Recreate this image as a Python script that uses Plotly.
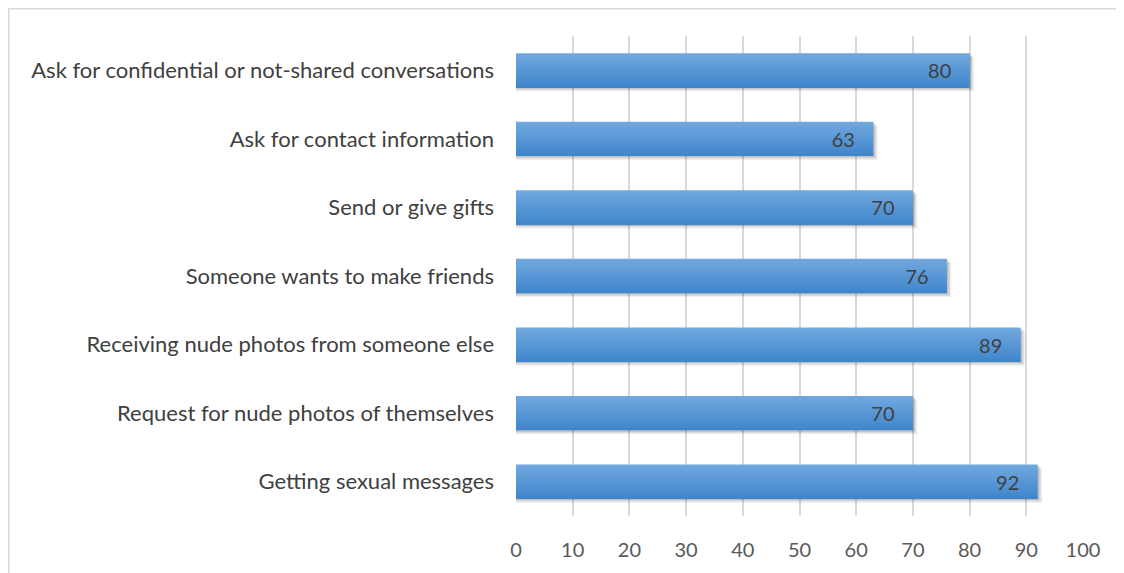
import plotly.graph_objects as go

categories = [
    "Ask for confidential or not-shared conversations",
    "Ask for contact information",
    "Send or give gifts",
    "Someone wants to make friends",
    "Receiving nude photos from someone else",
    "Request for nude photos of themselves",
    "Getting sexual messages",
]
values = [80, 63, 70, 76, 89, 70, 92]
tick_vals = [0, 10, 20, 30, 40, 50, 60, 70, 80, 90, 100]

FONT = "Lato, Carlito, Calibri, sans-serif"
BAR_W = 0.5
N_BANDS = 24
top_rgb = (113, 168, 222)
bot_rgb = (64, 134, 204)

fig = go.Figure()

# soft shadow layers
for dx, dy, a in [(0.8, 0.06, 0.06), (0.55, 0.04, 0.09), (0.3, 0.02, 0.12)]:
    fig.add_trace(go.Bar(
        y=categories, x=[v + dx for v in values], orientation="h",
        width=BAR_W, offset=-BAR_W / 2 + dy,
        marker=dict(color=f"rgba(0,0,0,{a})", line=dict(width=0)),
        hoverinfo="skip", showlegend=False,
    ))

# gradient bands
band = BAR_W / N_BANDS
for k in range(N_BANDS):
    t = k / (N_BANDS - 1)
    c = tuple(round(top_rgb[j] + (bot_rgb[j] - top_rgb[j]) * t) for j in range(3))
    w = band * 1.6 if k < N_BANDS - 1 else band
    fig.add_trace(go.Bar(
        y=categories, x=values, orientation="h",
        width=w, offset=-BAR_W / 2 + k * band,
        marker=dict(color=f"rgb{c}", line=dict(width=0)),
        hoverinfo="skip", showlegend=False,
    ))

# labels
fig.add_trace(go.Bar(
    y=categories, x=values, orientation="h",
    width=BAR_W, offset=-BAR_W / 2,
    marker=dict(color="rgba(0,0,0,0)", line=dict(width=0)),
    text=[f"{v}\u00a0\u00a0\u00a0" for v in values], textposition="inside",
    insidetextanchor="end",
    textfont=dict(family=FONT, size=20, color="#404040"),
    showlegend=False,
))

fig.update_layout(
    width=1124, height=573,
    margin=dict(l=508, r=49, t=28, b=65),
    paper_bgcolor="white", plot_bgcolor="white",
    barmode="overlay",
    font=dict(family=FONT, size=20, color="#595959"),
    xaxis=dict(
        range=[0, 100], tickvals=tick_vals, showgrid=True,
        gridcolor="#d9d9d9", gridwidth=1.5, zeroline=False,
        showline=False, ticks="", ticklabelstandoff=20,
        tickfont=dict(family=FONT, size=20, color="#595959"),
        fixedrange=True,
    ),
    yaxis=dict(
        autorange="reversed", showgrid=False, showline=False, ticks="",
        ticklabelstandoff=21,
        tickfont=dict(family=FONT, size=22, color="#404040"),
    ),
    shapes=[dict(
        type="rect", xref="paper", yref="paper",
        x0=(0.75 - 508) / 567, x1=1.3, y0=-0.3, y1=(480 + 28 - 0.75) / 480,
        line=dict(color="#d9d9d9", width=1.5), fillcolor="rgba(0,0,0,0)",
        layer="below",
    )],
)

fig.write_html("out.html")
